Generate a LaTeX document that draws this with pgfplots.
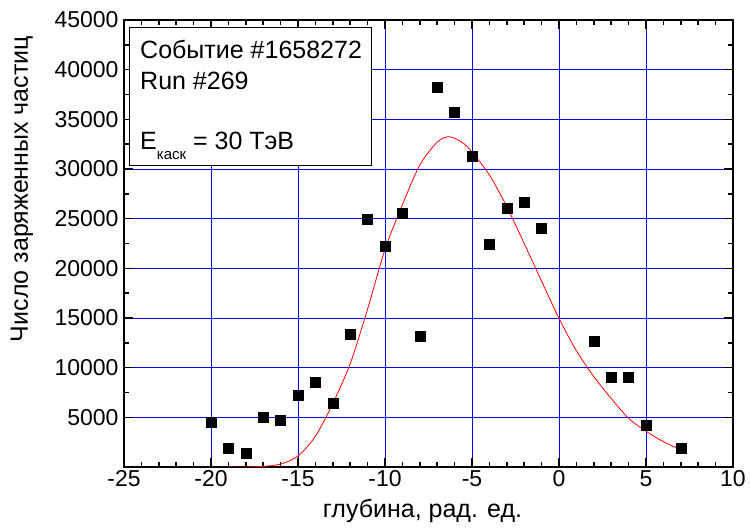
\documentclass[border=0pt]{standalone}
\usepackage{pgfplots}
\pgfplotsset{compat=1.18}
\usepackage{fontspec}
\setmainfont{Liberation Sans}
\begin{document}
\begin{tikzpicture}
\path[use as bounding box] (-124pt,-65pt) rectangle (626pt,467pt);
\begin{axis}[
  scale only axis, width=609pt, height=447pt,
  xmin=-25, xmax=10, ymin=0, ymax=45000,
  xtick={-25,-20,...,10}, ytick={5000,10000,...,45000},
  scaled y ticks=false,
  minor x tick num=4, minor y tick num=1,
  xtick pos=both, ytick pos=both, tick align=inside,
  xmajorgrids, ymajorgrids,
  major grid style={blue, line width=0.9pt},
  axis line style={line width=1.8pt},
  tick style={black, line width=1.6pt},
  major tick length=9pt, minor tick length=5pt,
  /pgf/number format/assume math mode=true,
  /pgf/number format/1000 sep={},
  tick label style={font=\fontsize{23}{26}\selectfont},
  yticklabel style={xshift=-2pt},
  label style={font=\fontsize{25}{28}\selectfont},
  xlabel={глубина, рад. ед.},
  ylabel={Число заряженных частиц},
  xlabel style={at={(rel axis cs:0.5,0)}, anchor=base, yshift=-51pt, xshift=-6pt},
  ylabel style={at={(rel axis cs:0,0.622)}, anchor=base, yshift=96pt},
]
\draw[fill=white, line width=0.8pt] (rel axis cs:0.0082,0.9843) rectangle (rel axis cs:0.4056,0.6756);
\node[anchor=base west, inner sep=0, font=\fontsize{25}{30}\selectfont] at (rel axis cs:0.0263,0.9128) {Событие \#1658272};
\node[anchor=base west, inner sep=0, font=\fontsize{25}{30}\selectfont] at (rel axis cs:0.0263,0.8456) {Run \#269};
\node[anchor=base west, inner sep=0, font=\fontsize{25}{30}\selectfont] at (rel axis cs:0.0263,0.7092) {E\raisebox{-10pt}{\fontsize{15}{15}\selectfont каск} = 30 ТэВ};
\addplot[only marks, mark=square*, mark size=5pt, black] coordinates {
(-20,4500) (-19,1900) (-18,1400) (-17,5000) (-16,4700) (-15,7250) (-14,8550) (-13,6400)
(-12,13400) (-11,24900) (-10,22250) (-9,25500) (-8,13200) (-7,38250) (-6,35750) (-5,31250)
(-4,22400) (-3,26050) (-2,26650) (-1,24050) (2,12700) (3,9050) (4,9050) (5,4200) (7,1900)
};
\addplot[red, line width=0.8pt, smooth, no marks] coordinates {
(-19,0) (-18,0) (-17,60) (-16,300) (-15,1100) (-14,3100) (-13,6400) (-12,10400) (-11,15900)
(-10,21900) (-9,26400) (-8,30400) (-7,32700) (-6.3,33250) (-5.5,32600) (-5,31700) (-4,29400)
(-3,26200) (-2,22500) (-1,18700) (0,14970) (1,11700) (2,9100) (3,6900) (4,4900) (5,3600)
(6,2550) (7,1750)
};
\end{axis}
\end{tikzpicture}
\end{document}
